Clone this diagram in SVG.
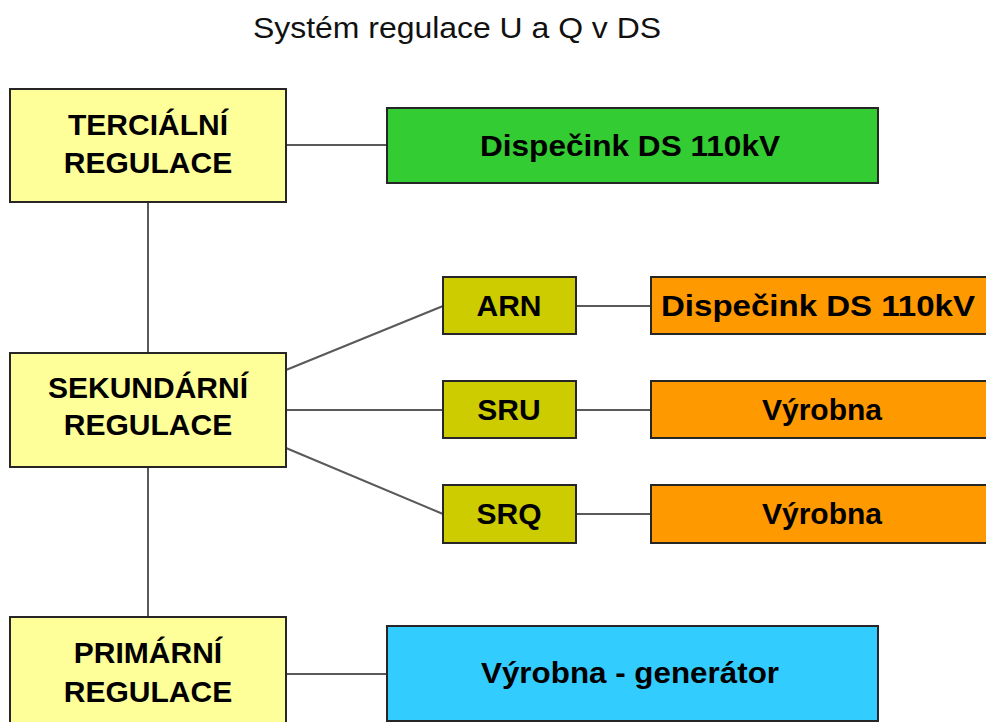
<svg xmlns="http://www.w3.org/2000/svg" width="986" height="722" viewBox="0 0 986 722">
  <style>
    .box { stroke: #262626; stroke-width: 2; }
    .lvl { fill: #FFFF99; }
    .ctl { fill: #CCCC00; }
    .ds { fill: #33CC33; }
    .src { fill: #FF9900; }
    .gen { fill: #33CCFF; }
    .lbl { font-family: "Liberation Sans", Arial, sans-serif; font-weight: bold; font-size: 30px; fill: #000; text-anchor: middle; }
    .title { font-family: "Liberation Sans", Arial, sans-serif; font-size: 30px; fill: #111; text-anchor: middle; }
    .wire { stroke: #595959; stroke-width: 2; fill: none; }
  </style>

  <rect width="986" height="722" fill="#fff"/>

  <text class="title" x="457" y="38" textLength="408" lengthAdjust="spacingAndGlyphs">Systém regulace U a Q v DS</text>

  <g id="connectors">
    <line class="wire" x1="148" y1="202" x2="148" y2="353"/>
    <line class="wire" x1="148" y1="467" x2="148" y2="617"/>
    <line class="wire" x1="286" y1="145" x2="387" y2="145"/>
    <line class="wire" x1="286" y1="370" x2="443" y2="306"/>
    <line class="wire" x1="286" y1="410" x2="443" y2="410"/>
    <line class="wire" x1="286" y1="448" x2="443" y2="514"/>
    <line class="wire" x1="576" y1="306" x2="651" y2="306"/>
    <line class="wire" x1="576" y1="410" x2="651" y2="410"/>
    <line class="wire" x1="576" y1="514" x2="651" y2="514"/>
    <line class="wire" x1="286" y1="674" x2="387" y2="674"/>
  </g>

  <g id="tercialni">
    <rect class="box lvl" x="10" y="89" width="276" height="113"/>
    <text class="lbl" x="148" y="135">TERCIÁLNÍ</text>
    <text class="lbl" x="148" y="173">REGULACE</text>
  </g>

  <g id="dispecink-green">
    <rect class="box ds" x="387" y="108" width="491" height="75"/>
    <text class="lbl" x="630" y="156" textLength="300" lengthAdjust="spacingAndGlyphs">Dispečink DS 110kV</text>
  </g>

  <g id="sekundarni">
    <rect class="box lvl" x="10" y="353" width="276" height="114"/>
    <text class="lbl" x="148" y="398">SEKUNDÁRNÍ</text>
    <text class="lbl" x="148" y="435">REGULACE</text>
  </g>

  <g id="arn">
    <rect class="box ctl" x="443" y="277" width="133" height="57"/>
    <text class="lbl" x="509" y="316">ARN</text>
  </g>
  <g id="sru">
    <rect class="box ctl" x="443" y="381" width="133" height="57"/>
    <text class="lbl" x="509" y="420">SRU</text>
  </g>
  <g id="srq">
    <rect class="box ctl" x="443" y="485" width="133" height="58"/>
    <text class="lbl" x="509" y="524">SRQ</text>
  </g>

  <g id="dispecink-orange">
    <rect class="box src" x="651" y="277" width="345" height="57"/>
    <text class="lbl" x="818" y="316" textLength="314" lengthAdjust="spacingAndGlyphs">Dispečink DS 110kV</text>
  </g>
  <g id="vyrobna-1">
    <rect class="box src" x="651" y="381" width="345" height="57"/>
    <text class="lbl" x="822" y="420">Výrobna</text>
  </g>
  <g id="vyrobna-2">
    <rect class="box src" x="651" y="485" width="345" height="58"/>
    <text class="lbl" x="822" y="524">Výrobna</text>
  </g>

  <g id="primarni">
    <rect class="box lvl" x="10" y="617" width="276" height="115"/>
    <text class="lbl" x="148" y="663">PRIMÁRNÍ</text>
    <text class="lbl" x="148" y="702">REGULACE</text>
  </g>

  <g id="generator">
    <rect class="box gen" x="387" y="626" width="491" height="95"/>
    <text class="lbl" x="630" y="683" textLength="298" lengthAdjust="spacingAndGlyphs">Výrobna - generátor</text>
  </g>
</svg>
